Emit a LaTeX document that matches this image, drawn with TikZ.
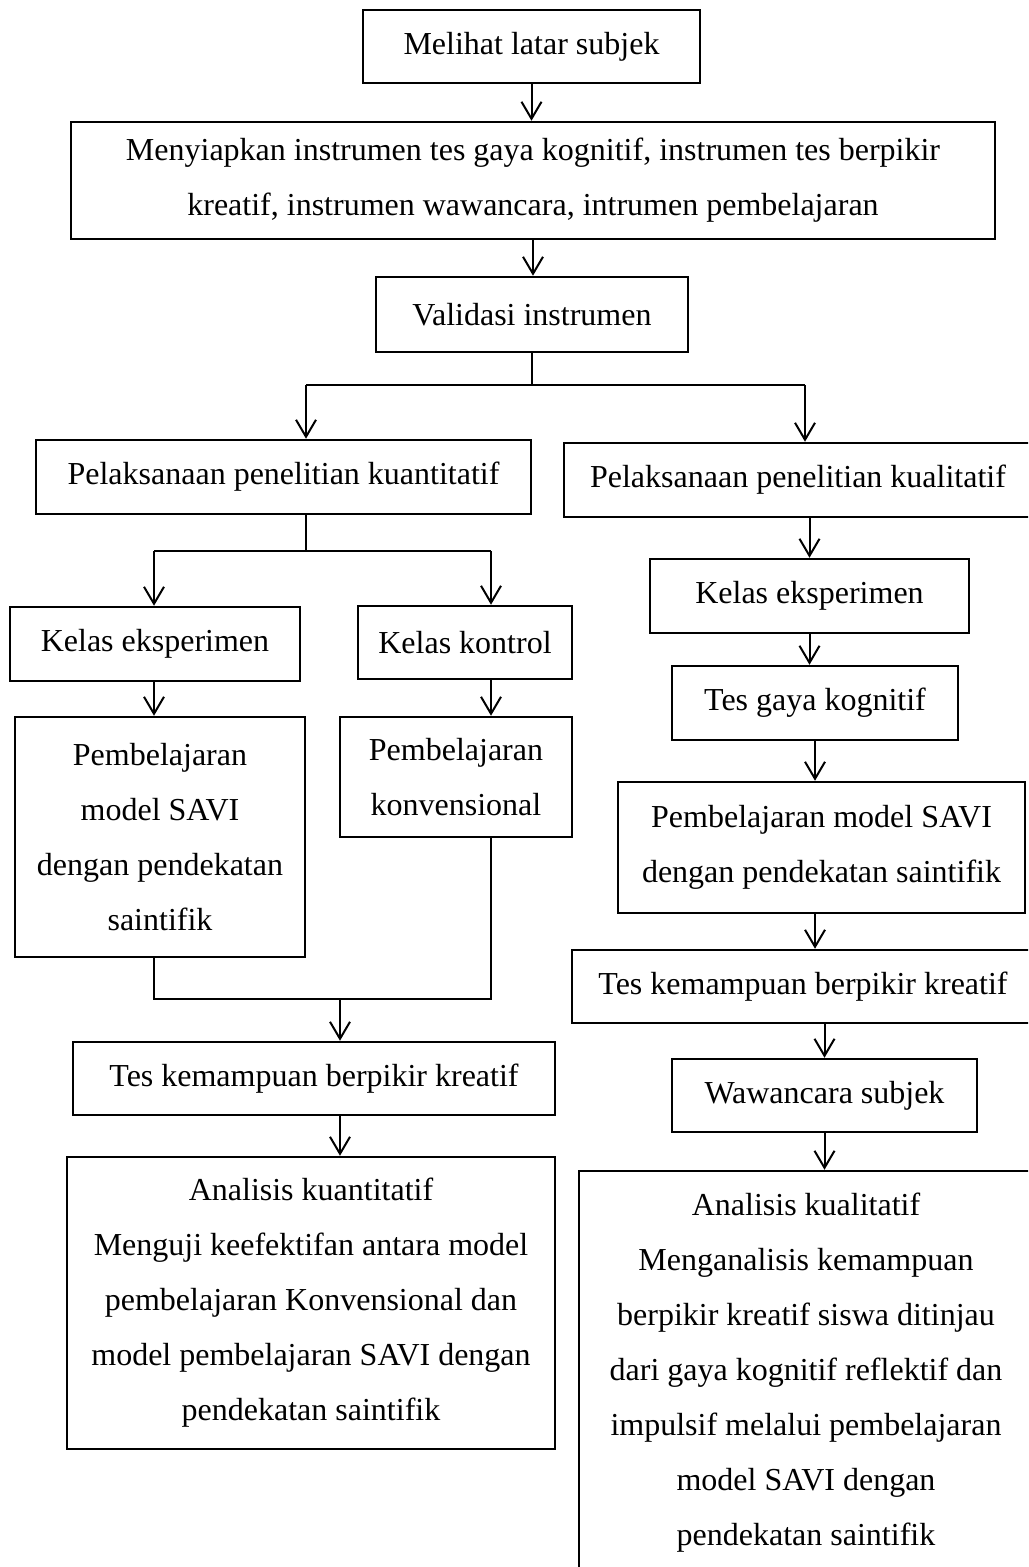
\documentclass[tikz,border=0pt]{standalone}
\usepackage{fontspec}
\setmainfont{Liberation Serif}
\usetikzlibrary{arrows.meta}

\begin{document}
\begin{tikzpicture}[x=0.5pt,y=-0.5pt,
  box/.style={draw, line width=1.25pt, rectangle, inner sep=0pt, align=center,
              font=\fontsize{16}{27.5}\selectfont},
  boxsize/.style 2 args={minimum width=#1*0.5pt, minimum height=#2*0.5pt},
  link/.style={line width=1pt},
  flow/.style={link, -{Straight Barb[length=8.5pt,width=10pt]}},
]
\useasboundingbox (0,0) rectangle (1028,1567);
\clip (0,0) rectangle (1028,1567);

% common trunk
\node[box, boxsize={337}{73}] (b1) at (531.5,46.5) {Melihat latar subjek};
\node[box, boxsize={924}{117}] (b2) at (533,180.5)
  {Menyiapkan instrumen tes gaya kognitif, instrumen tes berpikir\\kreatif, instrumen wawancara, intrumen pembelajaran};
\node[box, boxsize={312}{75}] (b3) at (532,314.5) {Validasi instrumen};

% quantitative branch
\node[box, boxsize={495}{74}] (b4) at (283.5,477) {Pelaksanaan penelitian kuantitatif};
\node[box, boxsize={290}{74}] (b6) at (155,644) {Kelas eksperimen};
\node[box, boxsize={214}{73}] (b7) at (465,642.5) {Kelas kontrol};
\node[box, boxsize={290}{240}] (b8) at (160,837)
  {Pembelajaran\\model SAVI\\dengan pendekatan\\saintifik};
\node[box, boxsize={232}{120}] (b9) at (456,777) {Pembelajaran\\konvensional};
\node[box, boxsize={482}{73}] (b10) at (314,1078.5) {Tes kemampuan berpikir kreatif};
\node[box, boxsize={488}{292}] (b11) at (311,1303)
  {Analisis kuantitatif\\Menguji keefektifan antara model\\pembelajaran Konvensional dan\\model pembelajaran SAVI dengan\\pendekatan saintifik};

% qualitative branch
\node[box, boxsize={468}{74}] (b5) at (798,480) {Pelaksanaan penelitian kualitatif};
\node[box, boxsize={319}{74}] (b12) at (809.5,596) {Kelas eksperimen};
\node[box, boxsize={286}{74}] (b13) at (815,703) {Tes gaya kognitif};
\node[box, boxsize={407}{131}] (b14) at (821.5,847.5)
  {Pembelajaran model SAVI\\dengan pendekatan saintifik};
\node[box, boxsize={462}{73}] (b15) at (803,986.5) {Tes kemampuan berpikir kreatif};
\node[box, boxsize={305}{73}] (b16) at (824.5,1095.5) {Wawancara subjek};
\node[box, boxsize={454}{404}] (b17) at (806,1373)
  {Analisis kualitatif\\Menganalisis kemampuan\\berpikir kreatif siswa ditinjau\\dari gaya kognitif reflektif dan\\impulsif melalui pembelajaran\\model SAVI dengan\\pendekatan saintifik};

% junction points
\coordinate (s1) at (531,385);
\coordinate (s1l) at (306,385);
\coordinate (s1r) at (805,385);
\coordinate (s2) at (306,551);
\coordinate (s2l) at (154,551);
\coordinate (s2r) at (491,551);
\coordinate (m1) at (340,999);

% trunk connectors
\draw[flow] (b1.south) -- (b1.south |- b2.north);
\draw[flow] (b2.south) -- (b2.south |- b3.north);
\draw[link] (b3.south) -- (b3.south |- s1);
\draw[link] (s1l) -- (s1r);
\draw[flow] (s1l) -- (s1l |- b4.north);
\draw[flow] (s1r) -- (s1r |- b5.north);

% quantitative connectors
\draw[link] (s2 |- b4.south) -- (s2);
\draw[link] (s2l) -- (s2r);
\draw[flow] (s2l) -- (s2l |- b6.north);
\draw[flow] (s2r) -- (s2r |- b7.north);
\draw[flow] (s2l |- b6.south) -- (s2l |- b8.north);
\draw[flow] (s2r |- b7.south) -- (s2r |- b9.north);
\draw[link] (s2l |- b8.south) -- (s2l |- m1) -- (s2r |- m1) -- (s2r |- b9.south);
\draw[flow] (m1) -- (m1 |- b10.north);
\draw[flow] (m1 |- b10.south) -- (m1 |- b11.north);

% qualitative connectors
\draw[flow] (b12.north |- b5.south) -- (b12.north);
\draw[flow] (b12.south) -- (b12.south |- b13.north);
\draw[flow] (b13.south) -- (b13.south |- b14.north);
\draw[flow] (b13.south |- b14.south) -- (b13.south |- b15.north);
\draw[flow] (b16.north |- b15.south) -- (b16.north);
\draw[flow] (b16.south) -- (b16.south |- b17.north);
\end{tikzpicture}
\end{document}
